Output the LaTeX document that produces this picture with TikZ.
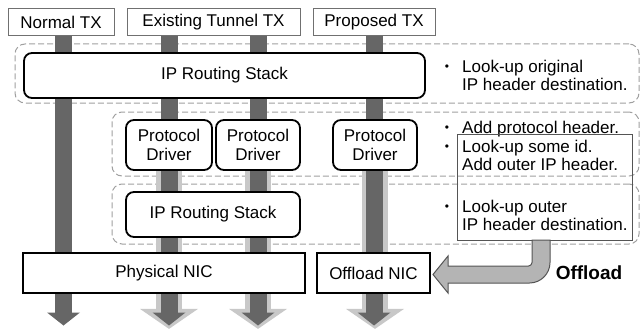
\documentclass[tikz,border=0pt]{standalone}
\usepackage{fontspec}
\setmainfont{Liberation Sans}
\usetikzlibrary{arrows.meta, backgrounds}
\definecolor{pipedark}{HTML}{666666}
\definecolor{pipelight}{HTML}{C8C8C8}
\definecolor{regborder}{HTML}{A0A0A0}
\definecolor{txborder}{HTML}{707070}
\definecolor{offfill}{HTML}{B4B4B4}
\definecolor{offborder}{HTML}{555555}
\newcommand\figfont{\fontsize{17}{18.5}\selectfont}
\tikzset{
  txbox/.style={rectangle, draw=txborder, fill=white, line width=1pt,
                minimum height=27pt, inner sep=0pt, font=\figfont},
  card/.style={rectangle, rounded corners=8pt, draw=black, fill=white,
               line width=1.8pt, align=center, inner sep=0pt, font=\figfont},
  nic/.style={rectangle, draw=black, fill=white, line width=1.4pt,
              minimum height=40pt, inner sep=0pt, font=\figfont},
  region/.style={rectangle, rounded corners=10pt, draw=regborder, line width=1pt,
                 dash pattern=on 6pt off 3pt, inner sep=0pt},
  note/.style={anchor=north west, inner sep=0pt, align=left, font=\figfont},
  bul/.style={anchor=base, inner sep=0pt, font=\fontsize{12}{12}\selectfont},
  shaft/.style={draw=pipedark, line width=17pt,
                -{Triangle[length=13pt, width=33pt, line width=0pt]}},
  tunnel/.style={draw=pipelight, line width=26pt,
                 -{Triangle[length=20pt, width=58pt, line width=0pt]}},
  offload/.style={fill=offfill, draw=offborder, line width=1pt},
}

\begin{document}
\begin{tikzpicture}[x=1pt, y=-1pt]
\useasboundingbox (0,0) rectangle (640,329);

% TX sources
\node[txbox, minimum width=106pt] (ntx) at (61,22.5)    {Normal TX};
\node[txbox, minimum width=173pt] (etx) at (213.5,22.5) {Existing Tunnel TX};
\node[txbox, minimum width=122pt] (ptx) at (374,22.5)   {Proposed TX};

% Stack layers
\node[card, minimum width=401pt, minimum height=45pt] (ip1) at (224.5,75.5) {IP Routing Stack};
\node[card, minimum width=86pt, minimum height=50pt]  (pd1) at (169,145)    {Protocol\\Driver};
\node[card, minimum width=84pt, minimum height=50pt]  (pd2) at (258,145)    {Protocol\\Driver};
\node[card, minimum width=84pt, minimum height=50pt]  (pd3) at (375,145)    {Protocol\\Driver};
\node[card, minimum width=174pt, minimum height=45pt] (ip2) at (213,214.5)  {IP Routing Stack};

% NICs
\node[nic, minimum width=282pt] (pnic) at (164,273)   {Physical NIC};
\node[nic, minimum width=113pt] (onic) at (373.5,273) {Offload NIC};

% Layer bands and packet paths behind the boxes
\begin{scope}[on background layer]
  \node[region, minimum width=624pt, minimum height=59pt] (reg1) at (327,73.5) {};
  \node[region, minimum width=527pt, minimum height=64pt] (reg2) at (375.5,144) {};
  \node[region, minimum width=527pt, minimum height=60pt] (reg3) at (375.5,214) {};

  \draw[tunnel] (pd1.south) -- ++(0,158);
  \draw[tunnel] (pd2.south) -- ++(0,158);
  \draw[tunnel] (pd3.south) -- ++(0,158);

  \draw[shaft] ([xshift=2.5pt]ntx.south) -- ++(0,289);
  \draw[shaft] (etx.south -| pd1.south) -- ++(0,289);
  \draw[shaft] (etx.south -| pd2.south) -- ++(0,289);
  \draw[shaft] (ptx.south) -- ++(0,289);
\end{scope}

% Notes
\node[bul] (b1) at (447,70.5) {•};
\node[note] (n1) at (462,59.5) {Look-up original\\IP header destination.};
\node[bul] (b2) at (447,131.5) {•};
\node[note] (n2) at (462,120.5) {Add protocol header.};
\node[bul] (b3) at (447,150.5) {•};
\node[note] (n3) at (462,139.5) {Look-up some id.\\Add outer IP header.};
\node[bul] (b4) at (447,210.5) {•};
\node[note] (n4) at (462,199.5) {Look-up outer\\IP header destination.};
\node[draw=offborder, line width=0.8pt, minimum width=175pt, minimum height=106pt,
      inner sep=0pt] (src) at (544.5,187) {};

% Offload path
\draw[offload] (532,240) -- (550,240) -- (550,262.5)
  .. controls (550,273.8) and (540.8,283) .. (529.5,283)
  -- (448,283) -- (448,293) -- (433,274.5) -- (448,256) -- (448,266)
  -- (528.5,266) .. controls (530.4,266) and (532,264.4) .. (532,262.5) -- cycle;
\node[font=\fontsize{19}{20}\selectfont\bfseries] (offl) at (589,273) {Offload};

\end{tikzpicture}
\end{document}
